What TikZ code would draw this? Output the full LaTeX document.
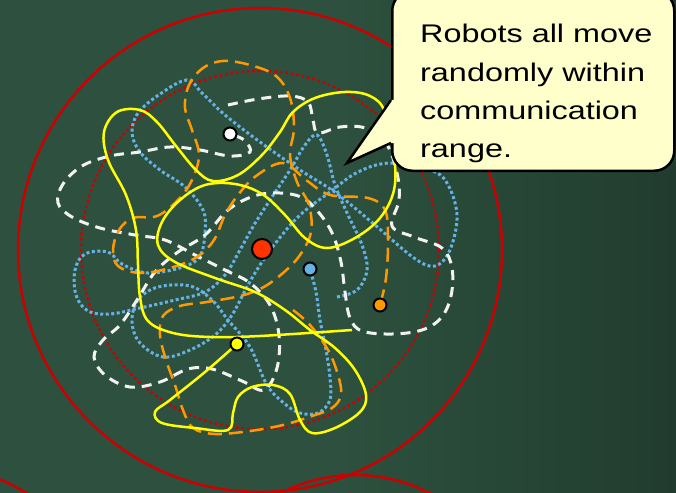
\documentclass[tikz,border=0pt]{standalone}
\usepackage{fontspec}
\newfontfamily\bubblefont[FakeStretch=1.27]{Liberation Sans}
\usetikzlibrary{positioning}
\definecolor{board}{RGB}{45,81,62}
\definecolor{boarddark}{RGB}{33,60,46}
\definecolor{rangered}{RGB}{204,0,0}
\definecolor{trailyellow}{RGB}{255,255,0}
\definecolor{trailorange}{RGB}{255,153,0}
\definecolor{trailblue}{RGB}{102,178,230}
\definecolor{trailwhite}{RGB}{242,242,242}
\definecolor{bubblefill}{RGB}{255,255,204}
\definecolor{robotred}{RGB}{255,51,0}

\begin{document}
\begin{tikzpicture}[x=1pt, y=-1pt,
    commrange/.style={draw=rangered, line width=2.5pt},
    trail/.style={line width=2.5pt, smooth, tension=0.6},
    robot/.style={circle, draw=black, line width=2pt, minimum size=13pt, inner sep=0pt},
    saytext/.style={font=\bubblefont\fontsize{25.5}{30}\selectfont, inner sep=0pt, anchor=base west}]
    \clip (0,0) rectangle (676,492);
    \shade[left color=board, right color=boarddark, middle color=board] (0,0) rectangle (676,492);

    % communication ranges
    \draw[commrange] (260,250) circle[radius=242];
    \draw[commrange] (-60,629) circle[radius=161];
    \draw[commrange] (355,636) circle[radius=161];
    \draw[rangered, line width=2.5pt, dash pattern=on 2.5pt off 3pt] (260,250) circle[radius=179];

    % random walks
    \draw[trail, trailblue, line width=3pt, dash pattern=on 3pt off 2.5pt] plot coordinates {
        (337,297) (357,290) (367,270) (362,245) (348,215) (335,185) (327,155) (317,135)
        (305,145) (290,170) (270,200) (254,225) (240,250) (225,275) (205,292) (175,300)
        (140,308) (110,314) (88,311) (76,295) (75,270) (85,254) (108,252) (122,264)
        (148,273) (183,267) (200,256) (205,232) (203,210) (185,187) (160,170) (140,152)
        (132,133) (138,113) (160,94) (187,80) (202,93) (225,115) (260,142) (300,170)
        (336,193) (375,225) (414,258) (435,266) (450,250) (457,215) (447,183) (430,170)
        (390,163) (358,172) (330,192) (300,215) (278,240) (262,262) (248,285) (232,315)
        (215,335) (190,350) (163,357) (140,343) (132,322) (138,300) (158,287) (190,286)
        (212,300) (228,320) (250,347) (267,385) (285,404) (300,413) (318,413) (330,400)
        (330,378) (326,350) (320,320) (316,292) (310,269)};
    \draw[trail, trailwhite, line width=3pt, dash pattern=on 10pt off 7pt] plot coordinates {
        (228,105) (258,99) (290,96) (308,102) (313,120) (318,133) (340,127) (365,128)
        (386,143) (397,173) (399,200) (392,226) (414,237) (442,248) (452,268) (451,296)
        (441,318) (422,330) (392,334) (362,331) (350,318) (345,292) (341,262) (333,235)
        (320,214) (303,198) (280,193) (254,196) (228,210) (205,235) (178,252) (155,272)
        (137,300) (120,325) (103,340) (94,357) (105,375) (130,387) (160,382) (188,369)
        (212,369) (242,381) (264,390) (277,368) (279,335) (270,305) (250,283) (225,270)
        (195,255) (165,240) (135,235) (100,228) (72,217) (58,203) (63,184) (82,166)
        (110,156) (140,152) (170,147) (200,150) (230,156) (250,152) (244,140) (230,134)};
    \draw[trail, trailorange, dash pattern=on 14pt off 7pt] plot coordinates {
        (293,310) (310,325) (328,350) (338,375) (341,395) (332,408) (312,416) (283,425)
        (250,431) (215,434) (193,428) (183,410) (175,385) (166,360) (160,335) (163,316)
        (180,306) (207,302) (240,296) (262,288) (283,273) (300,255) (311,232) (309,205)
        (297,182) (290,155) (294,128) (290,98) (276,76) (250,65) (223,61) (203,68)
        (189,85) (185,108) (192,130) (199,155) (192,180) (178,200) (157,216) (133,218)
        (119,230) (113,250) (118,266) (140,273) (170,268) (197,257) (214,240) (225,215)
        (238,195) (256,176) (283,163) (306,180) (330,195) (368,198) (385,210) (388,240)
        (386,278) (380,305)};
    \draw[trail, trailyellow] plot coordinates {
        (237,344) (205,372) (170,400) (155,412) (162,423) (195,428) (228,430) (233,413)
        (238,397) (252,387) (273,385) (290,394) (300,420) (312,433) (335,428) (360,412)
        (366,395) (355,370) (335,348) (310,330) (285,310) (255,292) (215,278) (175,262)
        (158,245) (162,222) (180,200) (205,185) (235,184) (262,194) (285,215) (305,238)
        (327,248) (355,238) (380,218) (394,190) (394,155) (385,112) (370,96) (345,92)
        (315,98) (293,112) (280,132) (262,155) (238,175) (213,181) (196,170) (176,146)
        (157,122) (140,110) (117,112) (104,132) (108,160) (126,195) (136,230) (138,265)
        (140,297) (148,321) (173,333) (210,337) (260,336) (352,330)};

    % robots
    \node[robot, fill=robotred, minimum size=20pt] (leader) at (262,249) {};
    \node[robot, fill=white] (rwhite) at (230,134) {};
    \node[robot, fill=trailblue] (rblue) at (310,269) {};
    \node[robot, fill=trailorange] (rorange) at (380,305) {};
    \node[robot, fill=trailyellow] (ryellow) at (237,344) {};

    % callout
    \node[draw=black, fill=bubblefill, line width=2.5pt, rounded corners=20pt, minimum width=282pt, minimum height=180pt, anchor=south west, inner sep=0pt] (bubble) at (391,172) {};
    \coordinate (tip) at (347,163);
    \fill[bubblefill] (tip) -- ([yshift=29pt]bubble.south west) -- ([shift={(4pt,29pt)}]bubble.south west)
        -- ([shift={(4pt,72pt)}]bubble.south west) -- ([yshift=72pt]bubble.south west) -- cycle;
    \draw[line width=2.5pt] ([yshift=72pt]bubble.south west) -- (tip) -- ([yshift=29pt]bubble.south west);
    \node[saytext] (say1) at (420,43) {Robots all move};
    \node[saytext] (say2) at ([yshift=-38.3pt]say1.base west) {randomly within};
    \node[saytext] (say3) at ([yshift=-38.3pt]say2.base west) {communication};
    \node[saytext] (say4) at ([yshift=-38.3pt]say3.base west) {range.};
\end{tikzpicture}
\end{document}
